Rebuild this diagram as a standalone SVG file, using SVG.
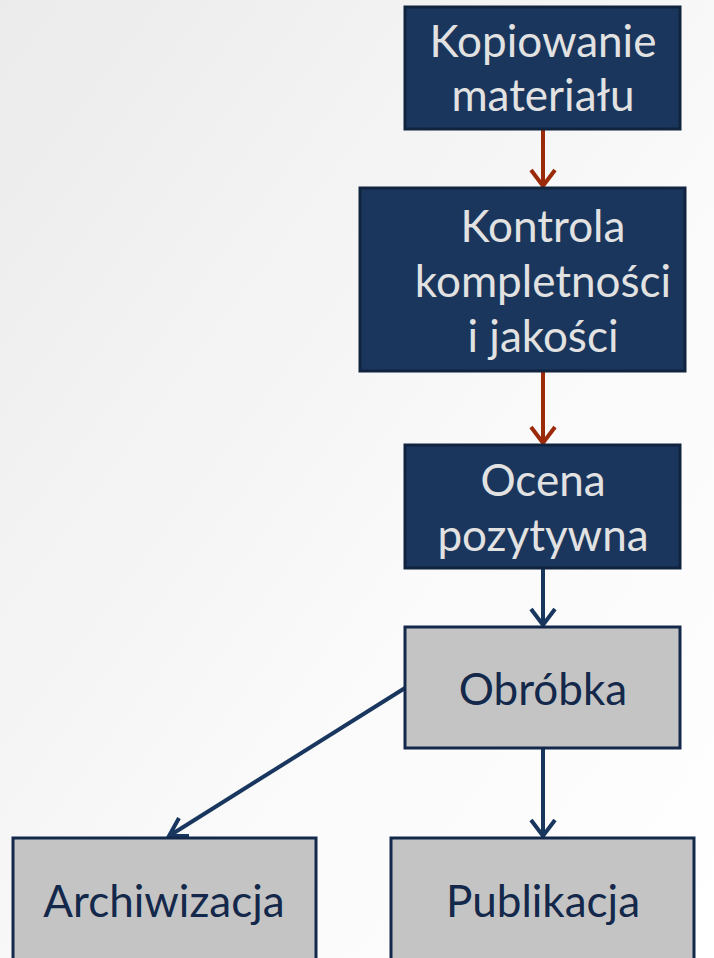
<svg xmlns="http://www.w3.org/2000/svg" width="714" height="958" viewBox="0 0 714 958">
<defs>
<linearGradient id="bg" x1="0" y1="0" x2="1" y2="1">
<stop offset="0" stop-color="#ebebeb"/>
<stop offset="0.6" stop-color="#fafafa"/>
<stop offset="1" stop-color="#ffffff"/>
</linearGradient>
</defs>
<style>
.dark rect{fill:#1a365d;stroke:#10233f;stroke-width:3}
.light rect{fill:#c4c4c4;stroke:#13284a;stroke-width:3}
.dark text{fill:#e2e2e2;font-family:Lato,"Open Sans",sans-serif;font-size:44px;text-anchor:middle}
.light text{fill:#13284a;font-family:Lato,"Open Sans",sans-serif;font-size:44px;text-anchor:middle}
.cr{stroke:#9b2a0b;stroke-width:4;fill:none}
.cb{stroke:#18365e;stroke-width:4;fill:none}
.hr{stroke:#9b2a0b;stroke-width:4;fill:none}
.hb{stroke:#18365e;stroke-width:4;fill:none}
</style>
<rect width="714" height="958" fill="url(#bg)"/>
<g id="connectors">
<line class="cr" x1="543" y1="130" x2="543" y2="186"/>
<path class="hr" d="M531 170 L543 186 L555 170"/>
<line class="cr" x1="543" y1="372" x2="543" y2="443"/>
<path class="hr" d="M531 427 L543 443 L555 427"/>
<line class="cb" x1="543" y1="569" x2="543" y2="625"/>
<path class="hb" d="M531 609 L543 625 L555 609"/>
<line class="cb" x1="543" y1="749" x2="543" y2="836"/>
<path class="hb" d="M531 820 L543 836 L555 820"/>
<line class="cb" x1="405" y1="688" x2="169" y2="836"/>
<path class="hb" d="M179 818 L169 836 L189 836"/>
</g>
<g id="kopiowanie" class="dark">
<rect x="405" y="7" width="275" height="122"/>
<text x="543" y="57">Kopiowanie</text>
<text x="543" y="111">materiału</text>
</g>
<g id="kontrola" class="dark">
<rect x="360" y="188" width="325" height="183"/>
<text x="543" y="242">Kontrola</text>
<text x="543" y="297">kompletności</text>
<text x="543" y="352">i jakości</text>
</g>
<g id="ocena" class="dark">
<rect x="405" y="445" width="275" height="123"/>
<text x="543" y="496">Ocena</text>
<text x="543" y="551">pozytywna</text>
</g>
<g id="obrobka" class="light">
<rect x="405" y="627" width="275" height="121"/>
<text x="543" y="705">Obróbka</text>
</g>
<g id="archiwizacja" class="light">
<rect x="13" y="838" width="303" height="140"/>
<text x="164" y="917">Archiwizacja</text>
</g>
<g id="publikacja" class="light">
<rect x="391" y="838" width="303" height="140"/>
<text x="543" y="917">Publikacja</text>
</g>
</svg>
